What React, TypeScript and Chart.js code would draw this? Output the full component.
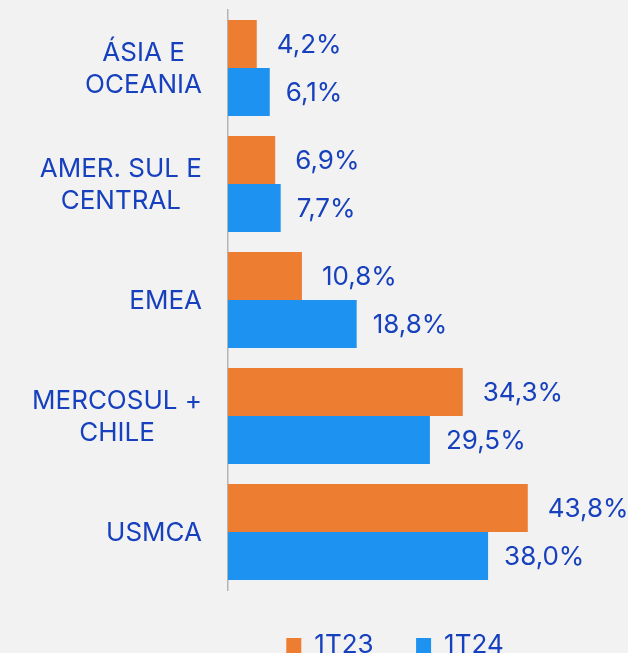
import { useEffect, useRef } from "react";
import { Chart, registerables } from "chart.js";

Chart.register(...registerables);

const categories: string[][] = [
  ["ÁSIA E", "OCEANIA"],
  ["AMER. SUL E", "CENTRAL"],
  ["EMEA"],
  ["MERCOSUL +", "CHILE"],
  ["USMCA"],
];
const series1T23 = [4.2, 6.9, 10.8, 34.3, 43.8];
const series1T24 = [6.1, 7.7, 18.8, 29.5, 38.0];
const seriesNames = ["1T23", "1T24"];

const TEXT_BLUE = "#1740BE";
const ORANGE = "#ED7D31";
const BLUE = "#1E92F0";
const FONT = "Inter";
const FONT_SIZE = 26;

const valueLabelPlugin = {
  id: "valueLabels",
  afterDatasetsDraw(chart: any) {
    const ctx = chart.ctx;
    ctx.save();
    ctx.font = `${FONT_SIZE}px ${FONT}`;
    ctx.fillStyle = TEXT_BLUE;
    ctx.textAlign = "left";
    ctx.textBaseline = "middle";
    chart.data.datasets.forEach((ds: any, di: number) => {
      const meta = chart.getDatasetMeta(di);
      const offset = di === 0 ? 20 : 16;
      meta.data.forEach((el: any, i: number) => {
        const v = ds.data[i] as number;
        const txt = v.toFixed(1).replace(".", ",") + "%";
        ctx.fillText(txt, el.x + offset, el.y + 1);
      });
    });
    ctx.restore();
  },
};

const categoryLabelPlugin = {
  id: "categoryLabels",
  afterDraw(chart: any) {
    const ctx = chart.ctx;
    const yScale = chart.scales.y;
    const rightEdge = chart.chartArea.left - 26;
    const lineH = 32;
    ctx.save();
    ctx.font = `${FONT_SIZE}px ${FONT}`;
    ctx.fillStyle = TEXT_BLUE;
    ctx.textAlign = "center";
    ctx.textBaseline = "middle";
    categories.forEach((lines, i) => {
      const w = Math.max(...lines.map((l) => ctx.measureText(l).width));
      const cx = rightEdge - w / 2;
      const cy = yScale.getPixelForTick(i);
      const y0 = cy - ((lines.length - 1) * lineH) / 2;
      lines.forEach((l, k) => {
        ctx.fillText(l, cx, y0 + k * lineH + 1);
      });
    });
    ctx.restore();
  },
};

export default function App() {
  const ref = useRef<HTMLCanvasElement | null>(null);

  useEffect(() => {
    document.body.style.margin = "0";
    document.body.style.background = "#F2F2F2";
    document.body.style.overflow = "hidden";
    if (!ref.current) return;
    const chart = new Chart(ref.current, {
      type: "bar",
      data: {
        labels: categories.map((c) => c.join(" ")),
        datasets: [
          {
            label: seriesNames[0],
            data: series1T23,
            backgroundColor: ORANGE,
            categoryPercentage: 0.8276,
            barPercentage: 1,
          },
          {
            label: seriesNames[1],
            data: series1T24,
            backgroundColor: BLUE,
            categoryPercentage: 0.8276,
            barPercentage: 1,
          },
        ],
      },
      options: {
        indexAxis: "y",
        responsive: false,
        animation: false,
        layout: { padding: { left: 228, right: 66, top: 10, bottom: 0.5 } },
        scales: {
          x: { display: false, min: 0, max: 48.8 },
          y: {
            display: true,
            ticks: { display: false, padding: 0 },
            grid: { display: false, drawTicks: false, tickLength: 0 },
            border: { display: true, color: "#B4B4B4", width: 1.5 },
          },
        },
        plugins: {
          tooltip: { enabled: false },
          legend: {
            display: true,
            position: "bottom",
            labels: {
              boxWidth: 15,
              boxHeight: 15,
              padding: 42.5,
              color: TEXT_BLUE,
              font: { family: FONT, size: FONT_SIZE },
            },
          },
        },
      },
      plugins: [valueLabelPlugin, categoryLabelPlugin],
    });
    return () => chart.destroy();
  }, []);

  return (
    <div
      style={{
        position: "fixed",
        left: 0,
        top: 0,
        width: 628,
        height: 653,
        overflow: "hidden",
        background: "#F2F2F2",
      }}
    >
      <canvas ref={ref} width={628} height={669} style={{ display: "block" }} />
    </div>
  );
}
